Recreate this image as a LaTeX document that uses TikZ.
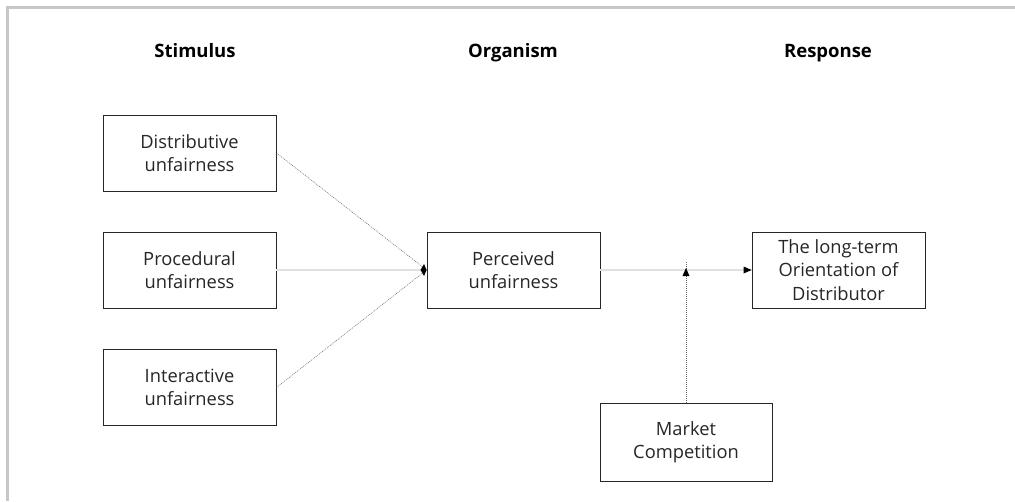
\documentclass[tikz,border=0pt]{standalone}
\usepackage{fontspec}
\setmainfont{Open Sans}
\usetikzlibrary{arrows.meta}
\begin{document}
\begin{tikzpicture}[x=1pt,y=-1pt,
  box/.style={draw=black!85,line width=0.9pt,minimum width=173pt,minimum height=76pt,inner sep=0pt,align=center,font=\fontsize{18.3}{23.5}\selectfont,text=black!85},
  head/.style={font=\bfseries\fontsize{18.5}{22}\selectfont,anchor=base},
  dotline/.style={draw=black!60,line width=0.5pt,dash pattern=on 1pt off 1pt},
  lightline/.style={draw=black!12,line width=1.6pt}]
\useasboundingbox (0,0) rectangle (1015,501);
\fill[white] (0,0) rectangle (1015,501);
\draw[black!22,line width=3.5pt] (7.5,501) -- (7.5,7.5) -- (1015,7.5);
\node[head] (hs) at (195,57) {Stimulus};
\node[head] (ho) at (513,57) {Organism};
\node[head] (hr) at (828,57) {Response};
\node[box] (dist) at (189.5,153) {Distributive\\unfairness};
\node[box] (proc) at (189.5,270) {Procedural\\unfairness};
\node[box] (inter) at (189.5,387.5) {Interactive\\unfairness};
\node[box] (perc) at (513.5,270) {Perceived\\unfairness};
\node[box] (resp) at (838.5,270) {The long-term\\Orientation of\\Distributor};
\node[box,minimum width=172pt,minimum height=78pt] (mark) at (686,442) {Market\\Competition};
\coordinate (mod) at (686,270);
\draw[lightline] (proc.east) -- (perc.west);
\draw[dotline] (dist.east) -- (perc.west);
\draw[dotline] (inter.east) -- (perc.west);
\fill[black] (perc.west) ++(-6,0) -- ++(3.5,-6) -- ++(2.5,6) -- ++(-2.5,6) -- cycle;
\draw[lightline] (perc.east) -- (resp.west);
\fill[black] (resp.west) -- ++(-8,-3.5) -- ++(0,7) -- cycle;
\draw[dotline] (mark.north) -- ([yshift=9pt]mod);
\fill[black] ([yshift=2pt]mod) -- ++(-3.5,8) -- ++(7,0) -- cycle;
\end{tikzpicture}
\end{document}
